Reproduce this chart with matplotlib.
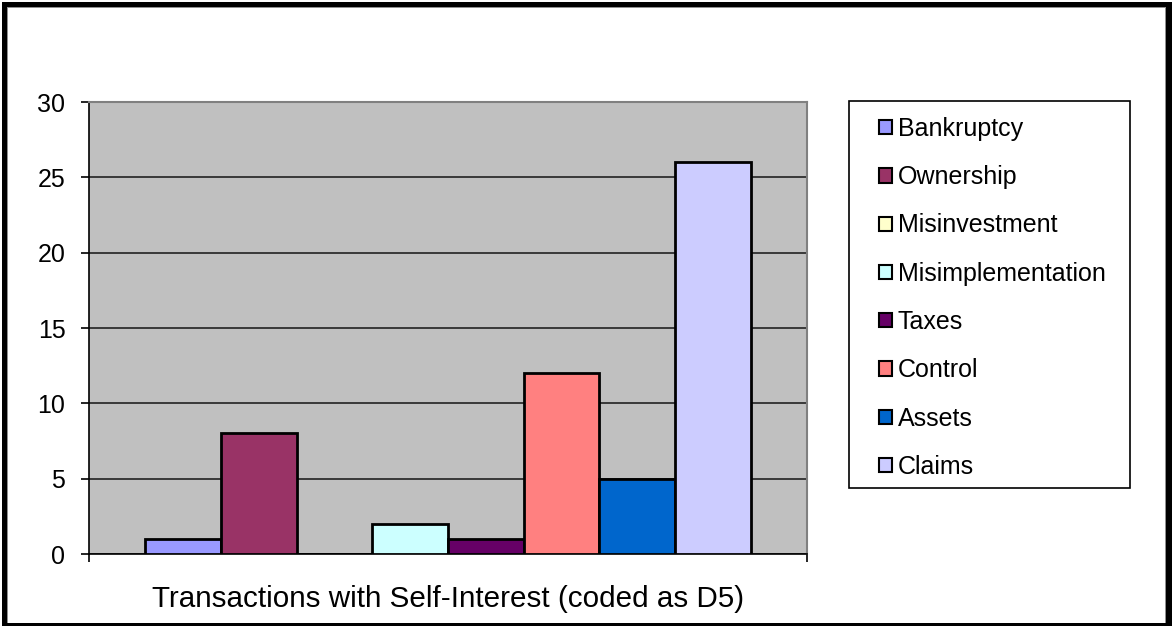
import matplotlib
matplotlib.use("Agg")
import matplotlib.pyplot as plt
from matplotlib.patches import Rectangle

# 数据
series = ["Bankruptcy", "Ownership", "Misinvestment", "Misimplementation",
          "Taxes", "Control", "Assets", "Claims"]
values = [1, 8, 0, 2, 1, 12, 5, 26]
colors = ["#9999FF", "#993366", "#FFFFCC", "#CCFFFF",
          "#660066", "#FF8080", "#0066CC", "#CCCCFF"]
category = "Transactions with Self-Interest (coded as D5)"
yticks = [0, 5, 10, 15, 20, 25, 30]

plt.rcParams['font.family'] = ['Liberation Sans', 'DejaVu Sans']
fs = 18
fs_cat = 21.3

W, H = 1172, 626
fig = plt.figure(figsize=(W / 100, H / 100), dpi=100)
fig.patch.set_facecolor("white")

# 绘图区 (像素位置换算)
x0, x1, ytop, ybot = 89, 807, 102, 554
ax = fig.add_axes([x0 / W, (H - ybot) / H, (x1 - x0) / W, (ybot - ytop) / H])
ax.set_facecolor("#C0C0C0")

n = len(series)
w = 0.844 / n
start = -0.422 + w / 2
for i, (name, v, c) in enumerate(zip(series, values, colors)):
    ax.bar(start + i * w, v, width=w, color=c, edgecolor="black",
           linewidth=2, label=name, zorder=3)

ax.set_xlim(-0.5, 0.5)
ax.set_ylim(0, 30)
ax.set_yticks(yticks)
ax.yaxis.grid(True, color="#222222", linewidth=1.2, zorder=1)
ax.set_axisbelow(True)
ax.tick_params(axis="y", direction="out", length=6, width=1.2, pad=11,
               labelsize=fs, colors="black")
ax.set_xticks([0])
ax.set_xticklabels([category], fontsize=fs_cat)
ax.tick_params(axis="x", length=0, pad=22)
ax.set_xticks([-0.5, 0.5], minor=True)
ax.tick_params(axis="x", which="minor", direction="out", length=6, width=1.2)

for s in ["left", "bottom"]:
    ax.spines[s].set_color("black")
    ax.spines[s].set_linewidth(1.2)
for s in ["top", "right"]:
    ax.spines[s].set_color("#808080")
    ax.spines[s].set_linewidth(1.5)

# 图例
lx0, ly0, lx1, ly1 = 849, 101, 1130, 488
fig.patches.append(Rectangle((lx0, H - ly1), lx1 - lx0, ly1 - ly0, transform=None,
                             facecolor="white", edgecolor="black", linewidth=1.2))
handles = [Rectangle((0, 0), 1, 1, facecolor=c, edgecolor="black", linewidth=1.5)
           for c in colors]
leg = fig.legend(handles, series, loc="upper left", frameon=False,
                 bbox_to_anchor=(879 / W, (H - 117) / H), fontsize=fs,
                 handlelength=0.5, handleheight=0.5, handletextpad=0.26,
                 labelspacing=0.97, borderpad=0, borderaxespad=0)

# 外框
def box(x, y, w_, h_, c="black"):
    fig.patches.append(Rectangle((x, H - y - h_), w_, h_, transform=None,
                                 facecolor=c, edgecolor="none", zorder=10))

box(2, 2, W - 2, 2.5)
box(2, 2, 2.5, H - 2)
box(5, 5, 1161, 2)
box(5, 5, 2, 618)
box(7, 7, 1158, 1, "#909090")
box(7, 7, 1, 616, "#909090")
box(1165, 7, 1, 616, "#909090")
box(1166, 2, 6, H - 2)
box(2, 623, W - 2, 3)

fig.savefig("out.png", dpi=100)
